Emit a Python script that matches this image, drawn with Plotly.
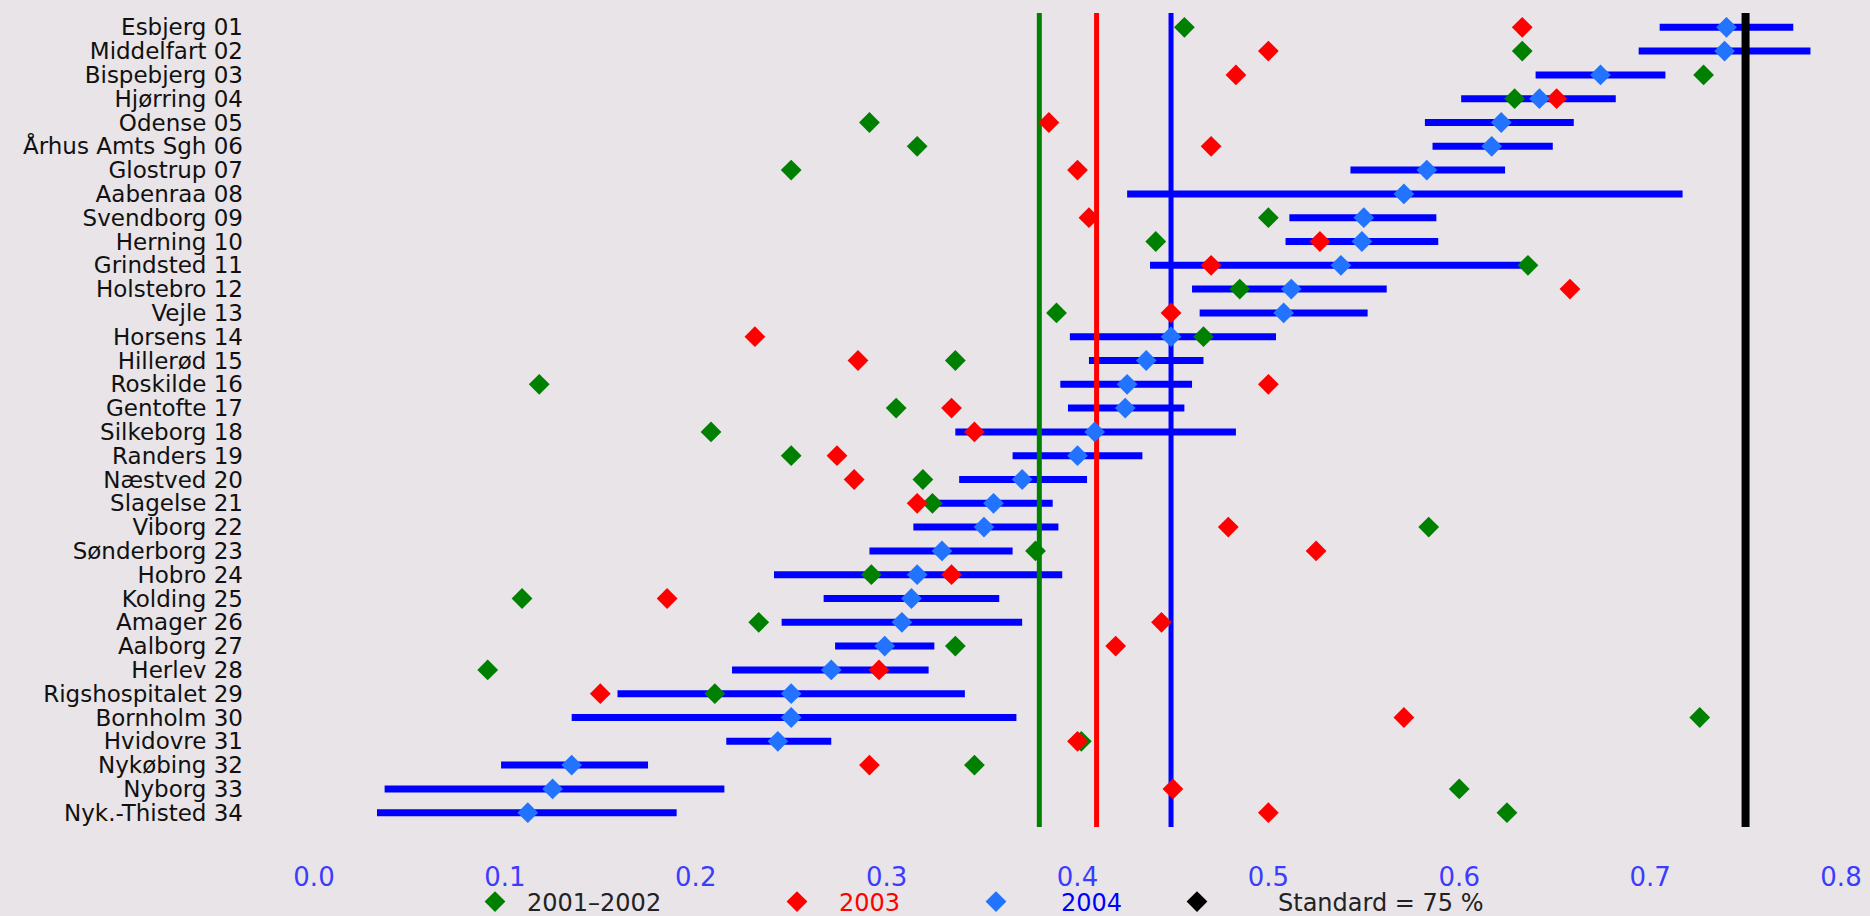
import plotly.graph_objects as go

# ---------------- data ----------------
hospitals = ["Esbjerg 01", "Middelfart 02", "Bispebjerg 03", "Hjørring 04", "Odense 05",
             "Århus Amts Sgh 06", "Glostrup 07", "Aabenraa 08", "Svendborg 09", "Herning 10",
             "Grindsted 11", "Holstebro 12", "Vejle 13", "Horsens 14", "Hillerød 15",
             "Roskilde 16", "Gentofte 17", "Silkeborg 18", "Randers 19", "Næstved 20",
             "Slagelse 21", "Viborg 22", "Sønderborg 23", "Hobro 24", "Kolding 25",
             "Amager 26", "Aalborg 27", "Herlev 28", "Rigshospitalet 29", "Bornholm 30",
             "Hvidovre 31", "Nykøbing 32", "Nyborg 33", "Nyk.-Thisted 34"]

v2001_2002 = [0.456, 0.633, 0.728, 0.629, 0.291, 0.316, 0.250, None, 0.500, 0.441,
              0.636, 0.485, 0.389, 0.466, 0.336, 0.118, 0.305, 0.208, 0.250, 0.319,
              0.324, 0.584, 0.378, 0.292, 0.109, 0.233, 0.336, 0.091, 0.210, 0.726,
              0.402, 0.346, 0.600, 0.625]

v2003 = [0.633, 0.500, 0.483, 0.651, 0.385, 0.470, 0.400, None, 0.406, 0.527,
         0.470, 0.658, 0.449, 0.231, 0.285, 0.500, 0.334, 0.346, 0.274, 0.283,
         0.316, 0.479, 0.525, 0.334, 0.185, 0.444, 0.420, 0.296, 0.150, 0.571,
         0.400, 0.291, 0.450, 0.500]

v2004 = [0.740, 0.739, 0.674, 0.642, 0.622, 0.617, 0.583, 0.571, 0.550, 0.549,
         0.538, 0.512, 0.508, 0.449, 0.436, 0.426, 0.425, 0.409, 0.400, 0.371,
         0.356, 0.351, 0.329, 0.316, 0.313, 0.308, 0.299, 0.271, 0.250, 0.250,
         0.243, 0.135, 0.125, 0.112]

lo2004 = [0.705, 0.694, 0.640, 0.601, 0.582, 0.586, 0.543, 0.426, 0.511, 0.509,
          0.438, 0.460, 0.464, 0.396, 0.406, 0.391, 0.395, 0.336, 0.366, 0.338,
          0.324, 0.314, 0.291, 0.241, 0.267, 0.245, 0.273, 0.219, 0.159, 0.135,
          0.216, 0.098, 0.037, 0.033]

hi2004 = [0.775, 0.784, 0.708, 0.682, 0.660, 0.649, 0.624, 0.717, 0.588, 0.589,
          0.637, 0.562, 0.552, 0.504, 0.466, 0.460, 0.456, 0.483, 0.434, 0.405,
          0.387, 0.390, 0.366, 0.392, 0.359, 0.371, 0.325, 0.322, 0.341, 0.368,
          0.271, 0.175, 0.215, 0.190]

avg_2001_2002 = 0.380
avg_2003 = 0.410
avg_2004 = 0.449
standard = 0.75

x_ticks = [0.0, 0.1, 0.2, 0.3, 0.4, 0.5, 0.6, 0.7, 0.8]

# ---------------- styling ----------------
W, H = 1870, 916
ML, MR, MT, MB = 314, 29, 13, 89
BG = "#e8e4e8"
GREEN = "#008000"
RED = "#ff0000"
BLUE_LINE = "#0000ff"
BLUE_MARK = "#2273ff"
FONT = "DejaVu Sans"

ypos = list(range(len(hospitals)))
ylo, yhi = -0.6, len(hospitals) - 0.4

plus = [h - v for h, v in zip(hi2004, v2004)]
minus = [v - l for v, l in zip(v2004, lo2004)]

fig = go.Figure()

# confidence intervals for 2004 (drawn first, below the reference lines)
fig.add_trace(go.Scatter(
    x=v2004, y=ypos, mode="markers",
    marker=dict(size=1, color="rgba(0,0,0,0)"),
    error_x=dict(type="data", symmetric=False, array=plus, arrayminus=minus,
                 color=BLUE_LINE, thickness=7, width=0),
    showlegend=False, hoverinfo="skip"))

# vertical reference lines
for val, col, lw in [(avg_2001_2002, GREEN, 5), (avg_2003, RED, 5),
                     (avg_2004, BLUE_LINE, 5), (standard, "#000000", 8)]:
    fig.add_trace(go.Scatter(x=[val, val], y=[ylo, yhi], mode="lines",
                             line=dict(color=col, width=lw),
                             showlegend=False, hoverinfo="skip"))

MS = 16
fig.add_trace(go.Scatter(x=v2001_2002, y=ypos, mode="markers", name="2001\u20132002",
                         marker=dict(symbol="diamond", size=MS, color=GREEN),
                         legend="legend"))
fig.add_trace(go.Scatter(x=v2003, y=ypos, mode="markers", name="2003",
                         marker=dict(symbol="diamond", size=MS, color=RED),
                         legend="legend2"))
fig.add_trace(go.Scatter(x=v2004, y=ypos, mode="markers", name="2004",
                         marker=dict(symbol="diamond", size=MS, color=BLUE_MARK),
                         legend="legend3"))
fig.add_trace(go.Scatter(x=[None], y=[None], mode="markers", name="Standard = 75 %",
                         marker=dict(symbol="diamond", size=MS, color="#000000"),
                         legend="legend4"))

def leg(xpx, color, iw):
    return dict(x=xpx / W, xref="container", xanchor="left",
                y=(H - 902) / H, yref="container", yanchor="middle",
                orientation="h", bgcolor="rgba(0,0,0,0)", borderwidth=0,
                itemwidth=iw, font=dict(family=FONT, size=24, color=color))

fig.update_layout(
    width=W, height=H,
    margin=dict(l=ML, r=MR, t=MT, b=MB, autoexpand=False),
    paper_bgcolor=BG, plot_bgcolor=BG,
    font=dict(family=FONT),
    legend=leg(463, "#222222", 54),
    legend2=leg(755, RED, 74),
    legend3=leg(931, BLUE_LINE, 120),
    legend4=leg(1116, "#222222", 152),
    xaxis=dict(range=[0, 0.8], tickvals=x_ticks, ticktext=[f"{t:.1f}" for t in x_ticks],
               showgrid=False, zeroline=False, showline=False, ticks="",
               ticklabelstandoff=32,
               tickfont=dict(family=FONT, size=26, color="#3c3cff")),
    yaxis=dict(range=[yhi, ylo], tickvals=ypos, ticktext=hospitals,
               showgrid=False, zeroline=False, showline=False, ticks="",
               ticklabelstandoff=70,
               tickfont=dict(family=FONT, size=23, color="#111111")),
)

fig.write_html(
    "out.html",
    config={"displayModeBar": False},
    post_script="document.body.style.margin='0';"
                "document.body.style.background='" + BG + "';",
)
